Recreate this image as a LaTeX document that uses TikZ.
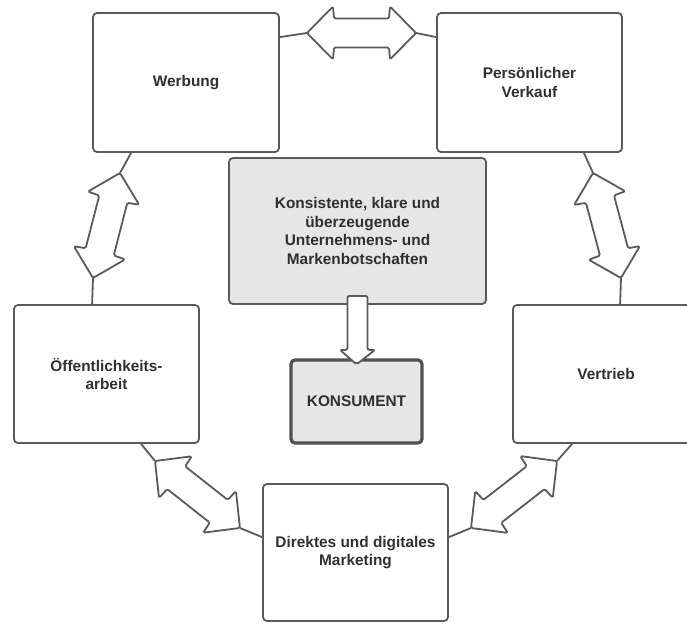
\documentclass[tikz,border=0pt]{standalone}
\usepackage{fontspec}
\setmainfont{Liberation Sans}
\usetikzlibrary{calc}
\definecolor{edge}{HTML}{5A5A5A}
\definecolor{txt}{HTML}{303030}
\definecolor{boxgray}{HTML}{E6E6E6}
\tikzset{
  box/.style n args={2}{draw=edge, line width=1.8pt, rounded corners=4pt, fill=white,
    minimum width=#1pt, minimum height=#2pt, inner sep=0pt,
    font=\bfseries\fontsize{15.4}{18.7}\selectfont, text=txt, align=center},
  conn/.style={draw=edge, line width=1.8pt},
  arrowshape/.style={draw=edge, line width=1.8pt, fill=white, rounded corners=1.5pt, line join=round},
}
\newcommand\dblarrow[3]{%
  \begin{scope}[shift={(#1)}, rotate=#2]
    \path[arrowshape] (0pt,0pt) -- (26pt,26.5pt) -- (27pt,14.5pt) -- ({#3pt-27pt},14.5pt)
      -- ({#3pt-26pt},26.5pt) -- (#3pt,0pt) -- ({#3pt-26pt},-26.5pt) -- ({#3pt-27pt},-14.5pt)
      -- (27pt,-14.5pt) -- (26pt,-26.5pt) -- cycle;
  \end{scope}}
\begin{document}
\begin{tikzpicture}[x=1pt, y=-1pt]
\useasboundingbox (0,0) rectangle (687,623);
\clip (0,0) rectangle (687,623);
% boxes
\node[box={186}{139}] (werbung) at (186,82.5) {Werbung};
\node[box={185}{139}] (verkauf) at (529.5,82.5) {Persönlicher\\Verkauf};
\node[box={185}{138}] (oeff) at (106.5,374) {Öffentlichkeits-\\arbeit};
\node[box={186}{138}] (vertrieb) at (606,374) {Vertrieb};
\node[box={185}{137}] (direkt) at (355.5,552.5) {Direktes und digitales\\Marketing};
\node[box={257}{146}, fill=boxgray] (botschaft) at (357.5,231)
  {Konsistente, klare und\\überzeugende\\Unternehmens- und\\Markenbotschaften};
\node[box={131}{83}, fill=boxgray, line width=3.2pt, draw=edge!90!black] (konsument) at (356.5,401.5) {KONSUMENT};
% arrow tips
\coordinate (ta1) at (307,33);  \coordinate (ta2) at (416,33);
\coordinate (tl1) at (120,173); \coordinate (tl2) at (93,278);
\coordinate (tr1) at (593,173); \coordinate (tr2) at (621,278);
\coordinate (tbl1) at (155,461); \coordinate (tbl2) at (240,528);
\coordinate (tbr1) at (557,461); \coordinate (tbr2) at (471,528);
% connectors
\draw[conn] ([yshift=-25pt]werbung.north east) -- (ta1);
\draw[conn] (ta2) -- ([yshift=-25pt]verkauf.north west);
\draw[conn] ([xshift=39pt]werbung.south west) -- (tl1);
\draw[conn] (tl2) -- ([xshift=79pt]oeff.north west);
\draw[conn] ([xshift=-39pt]verkauf.south east) -- (tr1);
\draw[conn] (tr2) -- ([xshift=108pt]vertrieb.north west);
\draw[conn] ([xshift=128pt]oeff.south west) -- (tbl1);
\draw[conn] (tbl2) -- ([yshift=-54pt]direkt.north west);
\draw[conn] ([xshift=60pt]vertrieb.south west) -- (tbr1);
\draw[conn] (tbr2) -- ([yshift=-54pt]direkt.north east);
% double arrows
\dblarrow{ta1}{0}{109}
\dblarrow{tl1}{-104.42}{108.4}
\dblarrow{tr1}{-75.07}{108.7}
\dblarrow{tbl1}{-38.25}{108.2}
\dblarrow{tbr1}{-142.08}{109.0}
% down arrow from botschaft to konsument
\coordinate (dtop) at ([yshift=9pt]botschaft.south);
\coordinate (dtip) at ([yshift=-6pt]konsument.north);
\path[arrowshape, rounded corners=2pt] ([xshift=-10pt]dtop) -- ++(0,54) -- ++(-7.5,0)
  -- (dtip) -- ([xshift=17.5pt,yshift=-54pt]dtop) -- ++(-7.5,0) -- ([xshift=10pt]dtop) -- cycle;
\end{tikzpicture}
\end{document}
